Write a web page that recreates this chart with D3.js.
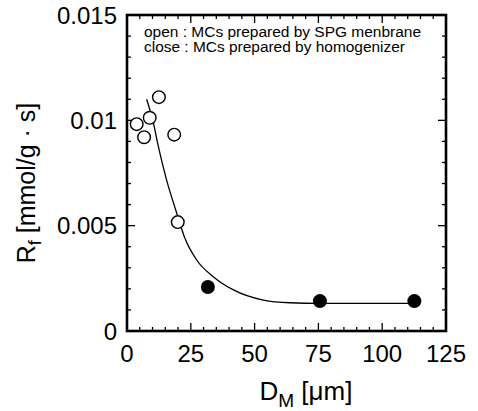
<!DOCTYPE html>
<html>
<head>
<meta charset="utf-8">
<script src="https://cdn.jsdelivr.net/npm/d3@7"></script>
<style>
body { margin: 0; background: #fff; }
svg { font-family: "Liberation Sans", Arial, sans-serif; }
</style>
</head>
<body>
<script>
// open circles: SPG membrane, closed: homogenizer
var openD = [3.8, 6.7, 8.9, 12.5, 18.5, 19.9];
var openR = [0.00982, 0.0092, 0.01012, 0.0111, 0.00932, 0.00517];
var closeD = [31.7, 75.6, 112.6];
var closeR = [0.00209, 0.00142, 0.00142];
// fitted curve
var curveD = [7.7, 10.3, 12.3, 15.5, 19.5, 22.7, 27.3, 33.8, 41.7, 53.4, 63.9, 75.6, 112.6];
var curveR = [0.0110, 0.0099, 0.00875, 0.00717, 0.00559, 0.0044, 0.00337, 0.00258, 0.00195, 0.00147, 0.00134, 0.00131, 0.00131];
var xTicks = [0, 25, 50, 75, 100, 125];
var yTicks = [0, 0.005, 0.01, 0.015];
var yTickLabels = ["0", "0.005", "0.01", "0.015"];
var legendLines = ["open : MCs prepared by SPG menbrane", "close : MCs prepared by homogenizer"];

var width = 478, height = 411;
var margin = {left: 127, right: 32, top: 15, bottom: 80};
var w = width - margin.left - margin.right;
var h = height - margin.top - margin.bottom;

var svg = d3.select("body").append("svg").attr("width", width).attr("height", height);
var g = svg.append("g").attr("transform", "translate(" + margin.left + "," + margin.top + ")");

var x = d3.scaleLinear().domain([0, 125]).range([0, w]);
var y = d3.scaleLinear().domain([0, 0.015]).range([h, 0]);

// inward ticks on all four sides
var xMinor = d3.range(0, 126, 5), yMinor = d3.range(0, 0.0151, 0.001);
function tickLen(isMajor) { return isMajor ? 8 : 4; }
xMinor.forEach(function(v) {
  var major = v % 25 === 0;
  g.append("line").attr("x1", x(v)).attr("x2", x(v)).attr("y1", h).attr("y2", h - tickLen(major)).attr("stroke", "#000").attr("stroke-width", 1.3);
  g.append("line").attr("x1", x(v)).attr("x2", x(v)).attr("y1", 0).attr("y2", tickLen(major)).attr("stroke", "#000").attr("stroke-width", 1.3);
});
yMinor.forEach(function(v, i) {
  var major = i % 5 === 0;
  g.append("line").attr("x1", 0).attr("x2", tickLen(major)).attr("y1", y(v)).attr("y2", y(v)).attr("stroke", "#000").attr("stroke-width", 1.3);
  g.append("line").attr("x1", w).attr("x2", w - tickLen(major)).attr("y1", y(v)).attr("y2", y(v)).attr("stroke", "#000").attr("stroke-width", 1.3);
});

g.append("rect").attr("x", 0).attr("y", 0).attr("width", w).attr("height", h)
  .attr("fill", "none").attr("stroke", "#000").attr("stroke-width", 2.6);

// tick labels
g.selectAll(".xl").data(xTicks).enter().append("text")
  .attr("x", function(d) { return x(d); }).attr("y", h + 31)
  .attr("text-anchor", "middle").style("font-size", "24px").text(function(d) { return d; });
g.selectAll(".yl").data(yTicks).enter().append("text")
  .attr("x", -10).attr("y", function(d) { return y(d); }).attr("dy", "0.36em")
  .attr("text-anchor", "end").style("font-size", "24px").text(function(d, i) { return yTickLabels[i]; });

// fitted curve
var line = d3.line().x(function(d) { return x(d[0]); }).y(function(d) { return y(d[1]); }).curve(d3.curveMonotoneX);
g.append("path").attr("d", line(d3.zip(curveD, curveR))).attr("fill", "none").attr("stroke", "#000").attr("stroke-width", 1.3);

g.selectAll(".op").data(d3.zip(openD, openR)).enter().append("circle")
  .attr("cx", function(d) { return x(d[0]); }).attr("cy", function(d) { return y(d[1]); })
  .attr("r", 6.3).attr("fill", "#fff").attr("stroke", "#000").attr("stroke-width", 1.4);
g.selectAll(".cl").data(d3.zip(closeD, closeR)).enter().append("circle")
  .attr("cx", function(d) { return x(d[0]); }).attr("cy", function(d) { return y(d[1]); })
  .attr("r", 7).attr("fill", "#000");

// legend text (slightly wide glyphs in the original)
var legendW = [277, 261];
g.selectAll(".lg").data(legendLines).enter().append("text")
  .attr("x", 17).attr("y", function(d, i) { return 22 + i * 15; })
  .attr("textLength", function(d, i) { return legendW[i]; })
  .attr("lengthAdjust", "spacingAndGlyphs")
  .style("font-size", "14px").text(function(d) { return d; });

// axis titles
var xt = svg.append("text").attr("x", 306).attr("y", 400)
  .attr("text-anchor", "middle").style("font-size", "26px");
xt.append("tspan").text("D");
xt.append("tspan").attr("dy", 7).style("font-size", "19px").text("M");
xt.append("tspan").attr("dy", -7).text(" [\u03bcm]");

var yt = svg.append("text").attr("transform", "translate(35," + 183 + ")rotate(-90)")
  .attr("text-anchor", "middle").style("font-size", "25px");
yt.append("tspan").text("R");
yt.append("tspan").attr("dy", 6).style("font-size", "18px").text("f");
yt.append("tspan").attr("dy", -6).text(" [mmol/g \u00b7 s]");
</script>
</body>
</html>
